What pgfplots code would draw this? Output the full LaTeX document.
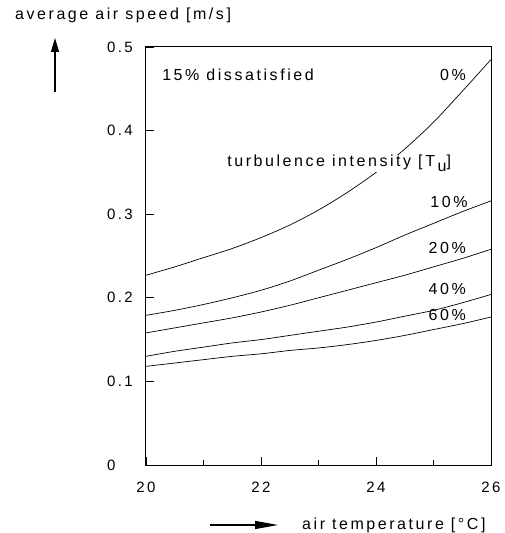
\documentclass[border=0pt]{standalone}
\usepackage{fontspec}
\setmainfont{Liberation Sans}[LetterSpace=16]
\usepackage{pgfplots}
\pgfplotsset{compat=1.18}
\usetikzlibrary{arrows.meta}

\newcommand{\chartfont}{\fontsize{16}{19}\selectfont}

% air speed for 15% dissatisfied, per turbulence intensity
\pgfplotstableread{
t    v0    v10   v20   v40   v60
20   0.227 0.179 0.158 0.130 0.118
20.5 0.237 0.185 0.164 0.136 0.122
21   0.248 0.192 0.170 0.141 0.126
21.5 0.259 0.200 0.176 0.146 0.130
22   0.272 0.209 0.183 0.150 0.133
22.5 0.287 0.220 0.191 0.155 0.137
23   0.305 0.233 0.200 0.160 0.140
23.5 0.326 0.246 0.209 0.165 0.144
24   0.350 0.260 0.218 0.171 0.149
24.5 0.378 0.275 0.227 0.178 0.155
25   0.410 0.289 0.237 0.185 0.162
25.5 0.447 0.303 0.247 0.194 0.169
26   0.485 0.316 0.258 0.204 0.177
}\speeds

\begin{document}
\chartfont
\begin{tikzpicture}
  \path[use as bounding box] (-146pt,-68pt) rectangle (359pt,465pt);
  \begin{axis}[
      at={(0pt,0pt)}, anchor=south west,
      scale only axis, width=345pt, height=418pt,
      xmin=20, xmax=26, ymin=0, ymax=0.5,
      xtick={20,22,24,26}, minor xtick={21,23,25},
      ytick={0,0.1,0.2,0.3,0.4,0.5},
      xtick pos=left, ytick pos=left,
      tick align=inside,
      major tick length=8pt, minor tick length=5pt,
      every tick/.style={black, line width=0.9pt},
      axis line style={black, line width=1pt},
      /pgf/number format/assume math mode=true,
      /pgf/number format/fixed,
      tick label style={font=\fontsize{15}{18}\selectfont},
      xticklabel style={anchor=center, yshift=-22pt},
      yticklabel style={anchor=west, inner sep=0pt, xshift=-39pt},
    ]
    \addplot[black, line width=0.7pt, smooth, mark=none] table[x=t, y=v0]  {\speeds};
    \addplot[black, line width=0.7pt, smooth, mark=none] table[x=t, y=v10] {\speeds};
    \addplot[black, line width=0.7pt, smooth, mark=none] table[x=t, y=v20] {\speeds};
    \addplot[black, line width=0.7pt, smooth, mark=none] table[x=t, y=v40] {\speeds};
    \addplot[black, line width=0.7pt, smooth, mark=none] table[x=t, y=v60] {\speeds};

    \node[anchor=west, inner sep=0pt, font=\chartfont] at (axis cs:20.28,0.4665) {15\% dissatisfied};
    \node[fill=white, inner sep=0.5pt, font=\chartfont] at (axis cs:23.36,0.361) {turbulence intensity [T\,\raisebox{-0.5ex}{u}]};
    \node[font=\chartfont] at (axis cs:25.34,0.4665) {0\%};
    \node[font=\chartfont] at (axis cs:25.27,0.3146) {10\%};
    \node[font=\chartfont] at (axis cs:25.24,0.2596) {20\%};
    \node[font=\chartfont] at (axis cs:25.24,0.2105) {40\%};
    \node[font=\chartfont] at (axis cs:25.24,0.1794) {60\%};
  \end{axis}

  % axis captions with arrows
  \node[anchor=west, inner sep=0pt, font=\chartfont] at (-131pt,450pt) {average air speed [m/s]};
  \draw[line width=1.2pt, -{Triangle[length=14pt, width=8pt]}] (-91pt,373pt) -- (-91pt,427pt);
  \draw[line width=1.2pt, -{Triangle[length=23pt, width=8pt]}] (64pt,-60pt) -- (132pt,-60pt);
  \node[anchor=west, inner sep=0pt, font=\chartfont] at (156pt,-60pt) {air temperature [°C]};
\end{tikzpicture}
\end{document}
